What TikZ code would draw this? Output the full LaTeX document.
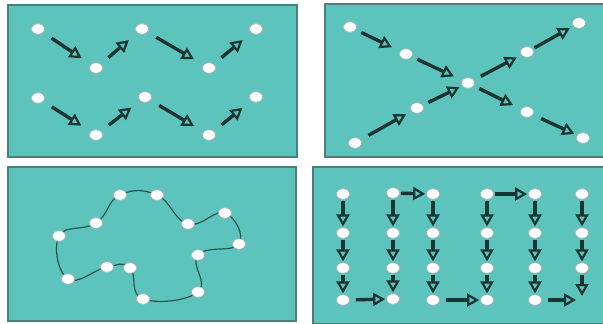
\documentclass[tikz,border=0pt]{standalone}
\usepackage{tikz}
\usetikzlibrary{arrows.meta,shapes.geometric,backgrounds}
\definecolor{pool}{HTML}{5CC4BC}
\definecolor{rim}{HTML}{4A7F7A}
\definecolor{ink}{HTML}{1B3533}
\definecolor{wire}{HTML}{285553}

\begin{document}
\begin{tikzpicture}[x=1pt,y=-1pt,
  panel/.style={draw=rim,fill=pool,line width=1.3pt},
  dot/.style={ellipse,draw=gray!60,line width=0.7pt,fill=white,inner sep=0pt,minimum width=13pt,minimum height=10.5pt},
  mv/.style={draw=ink,line width=3.4pt,-{Triangle[open,length=12pt,width=13pt,line width=2.2pt]},shorten <=10pt,shorten >=11pt},
  dn/.style={mv,shorten <=1pt,shorten >=1pt}]
\useasboundingbox (0,0) rectangle (603,324);
\begin{scope}[on background layer]
\draw[panel] (8,5) rectangle (297,157);
\draw[panel] (325,4) rectangle (604,157);
\draw[panel] (8,167) rectangle (296,321);
\draw[panel] (313,167) rectangle (604,324);
\end{scope}

% zigzag rows
\node[dot] (a1) at (38,29) {}; \node[dot] (a2) at (96,68) {}; \node[dot] (a3) at (142,29) {}; \node[dot] (a4) at (209,68) {}; \node[dot] (a5) at (256,29) {};
\node[dot] (b1) at (38,98) {}; \node[dot] (b2) at (96,135) {}; \node[dot] (b3) at (145,97) {}; \node[dot] (b4) at (209,135) {}; \node[dot] (b5) at (256,97) {};
\draw[mv] (a1)--(a2); \draw[mv] (a2)--(a3); \draw[mv] (a3)--(a4); \draw[mv] (a4)--(a5);
\draw[mv] (b1)--(b2); \draw[mv] (b2)--(b3); \draw[mv] (b3)--(b4); \draw[mv] (b4)--(b5);

% crossing diagonals
\node[dot] (d1) at (350,27) {}; \node[dot] (d2) at (406,54) {}; \node[dot] (x) at (468,83) {}; \node[dot] (d4) at (527,112) {}; \node[dot] (d5) at (583,138) {};
\node[dot] (u1) at (355,143) {}; \node[dot] (u2) at (417,108) {}; \node[dot] (u4) at (527,52) {}; \node[dot] (u5) at (579,23) {};
\draw[mv,shorten <=6pt,shorten >=9pt] (d1)--(d2); \draw[mv,shorten <=6pt,shorten >=9pt] (d2)--(x); \draw[mv,shorten <=6pt,shorten >=9pt] (x)--(d4); \draw[mv,shorten <=9pt,shorten >=3pt] (d4)--(d5);
\draw[mv,shorten <=9pt,shorten >=6pt] (u1)--(u2); \draw[mv,shorten <=6pt,shorten >=3pt] (u2)--(x); \draw[mv,shorten <=8pt,shorten >=5pt] (x)--(u4); \draw[mv,shorten <=2pt,shorten >=4pt] (u4)--(u5);

% closed loop
\node[dot] (c1) at (120,195) {}; \node[dot] (c2) at (157,195) {}; \node[dot] (c3) at (188,224) {}; \node[dot] (c4) at (225,213) {}; \node[dot] (c5) at (239,244) {};
\node[dot] (c6) at (198,255) {}; \node[dot] (c7) at (198,292) {}; \node[dot] (c8) at (143,299) {}; \node[dot] (c9) at (130,268) {}; \node[dot] (c10) at (107,267) {};
\node[dot] (c11) at (68,279) {}; \node[dot] (c12) at (59,236) {}; \node[dot] (c13) at (96,223) {};
\begin{scope}[on background layer]
\draw[wire,line width=1.2pt] plot[smooth cycle,tension=0.75] coordinates {(c1) (c2) (c3) (c4) (c5) (c6) (c7) (c8) (c9) (c10) (c11) (c12) (c13)};
\end{scope}

% snake columns
\node[dot] (r11) at (343,194) {}; \node[dot] (r12) at (343,233) {}; \node[dot] (r13) at (343,268) {}; \node[dot] (r14) at (343,300) {};
\node[dot] (r21) at (393,193) {}; \node[dot] (r22) at (393,233) {}; \node[dot] (r23) at (393,268) {}; \node[dot] (r24) at (393,299) {};
\node[dot] (r31) at (433,194) {}; \node[dot] (r32) at (433,233) {}; \node[dot] (r33) at (433,268) {}; \node[dot] (r34) at (433,300) {};
\node[dot] (r41) at (487,194) {}; \node[dot] (r42) at (487,233) {}; \node[dot] (r43) at (487,268) {}; \node[dot] (r44) at (487,300) {};
\node[dot] (r51) at (535,194) {}; \node[dot] (r52) at (535,233) {}; \node[dot] (r53) at (535,268) {}; \node[dot] (r54) at (535,300) {};
\node[dot] (r61) at (582,194) {}; \node[dot] (r62) at (582,233) {}; \node[dot] (r63) at (582,268) {};
\coordinate (e6) at (582,296); \coordinate (e5) at (576,300);
\draw[dn] (r11)--(r12); \draw[dn] (r12)--(r13); \draw[dn] (r13)--(r14);
\draw[dn] (r21)--(r22); \draw[dn] (r22)--(r23); \draw[dn] (r23)--(r24);
\draw[dn] (r31)--(r32); \draw[dn] (r32)--(r33); \draw[dn] (r33)--(r34);
\draw[dn] (r41)--(r42); \draw[dn] (r42)--(r43); \draw[dn] (r43)--(r44);
\draw[dn] (r51)--(r52); \draw[dn] (r52)--(r53); \draw[dn] (r53)--(r54);
\draw[dn] (r61)--(r62); \draw[dn] (r62)--(r63); \draw[dn,shorten >=0pt] (r63)--(e6);
\draw[mv,shorten <=1pt,shorten >=1pt] (r21)--(r31); \draw[mv,shorten <=1pt,shorten >=1pt] (r41)--(r51);
\draw[mv,shorten <=6pt,shorten >=1pt] (r14)--(r24); \draw[mv,shorten <=6pt,shorten >=1pt] (r34)--(r44); \draw[mv,shorten <=6pt,shorten >=0pt] (r54)--(e5);
\end{tikzpicture}
\end{document}
